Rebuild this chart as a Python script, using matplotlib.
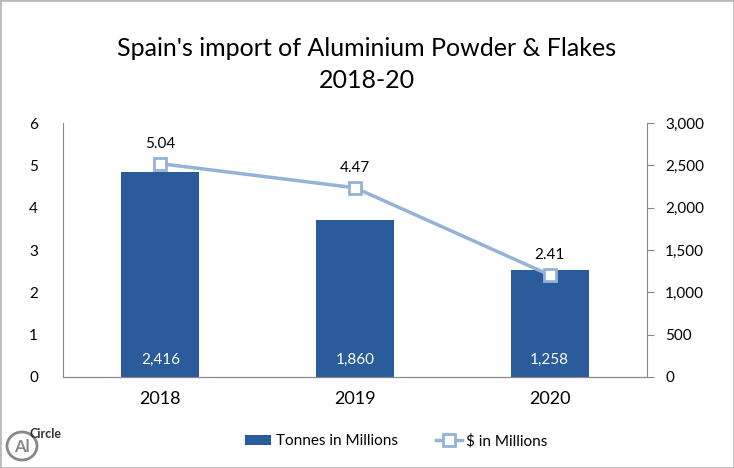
import matplotlib.pyplot as plt
from matplotlib.patches import Ellipse, Rectangle

years = ['2018', '2019', '2020']
tonnes = [2416, 1860, 1258]
dollars = [5.04, 4.47, 2.41]
title = "Spain's import of Aluminium Powder & Flakes\n2018-20"

plt.rcParams['font.family'] = ['Lato', 'DejaVu Sans']

fig = plt.figure(figsize=(7.34, 4.68), dpi=100)
ax = fig.add_axes([63 / 734, 1 - 377 / 468, 584 / 734, 254 / 468])
ax2 = ax.twinx()

x = list(range(len(years)))

# bars on the right axis (tonnes)
ax2.bar(x, tonnes, width=0.4, color='#2A5B9B', zorder=2, label='Tonnes in Millions')
for xi, v in zip(x, tonnes):
    ax2.text(xi, 200, f'{v:,}', ha='center', va='center', color='white', fontsize=11)

# line on the left axis ($)
ax.plot(x, dollars, color='#95B3D7', lw=2.5, marker='s', ms=8, mfc='white',
        mec='#95B3D7', mew=2, zorder=5, label='$ in Millions')
for xi, v in zip(x, dollars):
    ax.annotate(f'{v:.2f}', (xi, v), xytext=(0, 9), textcoords='offset points',
                ha='center', va='bottom', fontsize=11)
ax.set_zorder(ax2.get_zorder() + 1)
ax.patch.set_visible(False)

ax.set_xlim(-0.5, 2.5)
ax.set_ylim(0, 6)
ax2.set_ylim(0, 3000)
ax.set_yticks(range(0, 7))
ax2.set_yticks(range(0, 3001, 500))
ax2.set_yticklabels([f'{v:,}' for v in range(0, 3001, 500)])
ax.set_xticks(x)
ax.set_xticklabels(years, fontsize=13)

for a in (ax, ax2):
    a.spines['top'].set_visible(False)
    a.spines['left'].set_color('#888888')
    a.spines['right'].set_color('#888888')
    a.spines['bottom'].set_color('#888888')
ax.spines['right'].set_visible(False)
ax2.spines['left'].set_visible(False)
ax.tick_params(axis='y', length=0, pad=18, labelsize=11)
ax.tick_params(axis='x', length=0, pad=10)
ax2.tick_params(axis='y', length=5, color='#888888', pad=8, labelsize=11)

fig.suptitle(title, y=0.92, fontsize=18, linespacing=1.45)

h1, l1 = ax2.get_legend_handles_labels()
h2, l2 = ax.get_legend_handles_labels()
fig.legend(h1 + h2, l1 + l2, loc='center', bbox_to_anchor=(0.54, 1 - 441 / 468),
           ncol=2, frameon=False, fontsize=11, handlelength=1.7, columnspacing=2.5,
           handletextpad=0.3)

# logo
fig.patches.append(Ellipse((22 / 734, 1 - 446 / 468), 30 / 734, 28 / 468, transform=fig.transFigure,
                           fill=False, ec='#888888', lw=2))
fig.text(22 / 734, 1 - 447 / 468, 'Al', ha='center', va='center', color='#888888',
         fontsize=12, fontweight='bold')
fig.text(30 / 734, 1 - 434 / 468, 'Circle', ha='left', va='center', color='#333333',
         fontsize=9, fontweight='bold')

# outer border
fig.patches.append(Rectangle((0, 0), 1, 1, transform=fig.transFigure, fill=False,
                             ec='#BBBBBB', lw=2))

fig.savefig('out.png', dpi=100)
